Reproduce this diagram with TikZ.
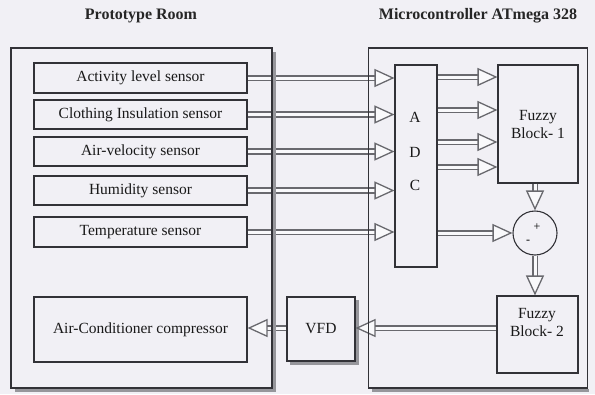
\documentclass[tikz,border=0pt]{standalone}
\usepackage{fontspec}
\setmainfont{Liberation Serif}
\usetikzlibrary{arrows.meta,calc}
\definecolor{bgc}{RGB}{241,240,245}
\definecolor{edge}{RGB}{50,50,55}
\definecolor{shaft}{RGB}{105,105,110}
\definecolor{shad}{RGB}{150,150,155}
\tikzset{
  lbl/.style={font=\fontsize{15.5}{18}\selectfont, text=black!90},
  box/.style={draw=edge, line width=1.1pt, fill=bgc, inner sep=0pt, align=center, lbl},
  outer/.style={draw=edge, line width=1.1pt, inner sep=0pt},
  shadowline/.style={draw=shad, line width=3.5pt},
  dbl/.style={draw=shaft, double=bgc!40!white, double distance=3pt, line width=1.6pt,
    -{Triangle[open, length=20pt, width=18pt, line width=1.3pt, fill=bgc!40!white]}},
  title/.style={font=\bfseries\fontsize{16}{18}\selectfont, text=black!85}
}
\begin{document}
\begin{tikzpicture}[x=1pt,y=-1pt]
\useasboundingbox[fill=bgc] (0,0) rectangle (595,394);
% titles
\node[title] (t1) at (141,16) {Prototype Room};
\node[title] (t2) at (478,16) {Microcontroller ATmega 328};
% inner nodes
\node[box, minimum width=213pt, minimum height=30pt] (act) at (140.5,78) {Activity level sensor};
\node[box, minimum width=213pt, minimum height=29pt] (clo) at (140.5,114.5) {Clothing Insulation sensor};
\node[box, minimum width=213pt, minimum height=29pt] (air) at (140.5,151.5) {Air-velocity sensor};
\node[box, minimum width=213pt, minimum height=29pt] (hum) at (140.5,190.5) {Humidity sensor};
\node[box, minimum width=213pt, minimum height=30pt] (tmp) at (140.5,232) {Temperature sensor};
\node[box, minimum width=213pt, minimum height=65pt] (ac) at (140.5,329.5) {Air-Conditioner compressor};
\fill[shad] (290,300) rectangle (359,365);
\node[box, minimum width=68pt, minimum height=64pt] (vfd) at (321,329) {VFD};
\node[box, minimum width=42pt, minimum height=202pt] (adc) at (416,166) {};
\node[lbl] (la) at (415,117) {A};
\node[lbl] (ld) at (415,152) {D};
\node[lbl] (lc) at (415,185) {C};
\node[box, minimum width=80pt, minimum height=118pt] (fb1) at (538,124) {Fuzzy\\Block- 1};
\node[draw=edge, line width=1.1pt, fill=bgc, circle, minimum size=44pt, inner sep=0pt] (circ) at (535,233) {};
\node[font=\fontsize{12}{12}\selectfont, inner sep=0pt] (plus) at (537,227) {+};
\node[font=\fontsize{12}{12}\selectfont, inner sep=0pt] (minus) at (528,242) {-};
\node[box, minimum width=81pt, minimum height=77pt] (fb2) at (537.5,334.5) {};
\node[lbl, align=center, inner sep=0pt] (fb2t) at (537,322.5) {Fuzzy\\Block- 2};
% arrows
\foreach \s in {act,clo,air,hum,tmp} \draw[dbl] (\s.east) -- (adc.west |- \s.east);
\foreach \yy in {77,110,142,167} \draw[dbl] (adc.east |- {0,\yy}) -- (fb1.west |- {0,\yy});
\draw[dbl] (adc.east |- circ.west) -- (circ.west);
\draw[dbl] (fb1.south -| circ.north) -- (circ.north);
\draw[dbl] (circ.south) -- (fb2.north -| circ.south);
\draw[dbl] (fb2.west |- {0,328}) -- (vfd.east |- {0,328});
\draw[dbl] (vfd.west |- {0,328}) -- (ac.east |- {0,328});
% outer boxes with shadows
\draw[shadowline] (274.5,52) -- (274.5,390.5) -- (15,390.5);
\draw[shadowline] (372,390.5) -- (589,390.5);
\node[outer, minimum width=261pt, minimum height=340pt] (room) at (141.5,218) {};
\node[outer, minimum width=219pt, minimum height=340pt] (mcu) at (478,218) {};
\end{tikzpicture}
\end{document}
